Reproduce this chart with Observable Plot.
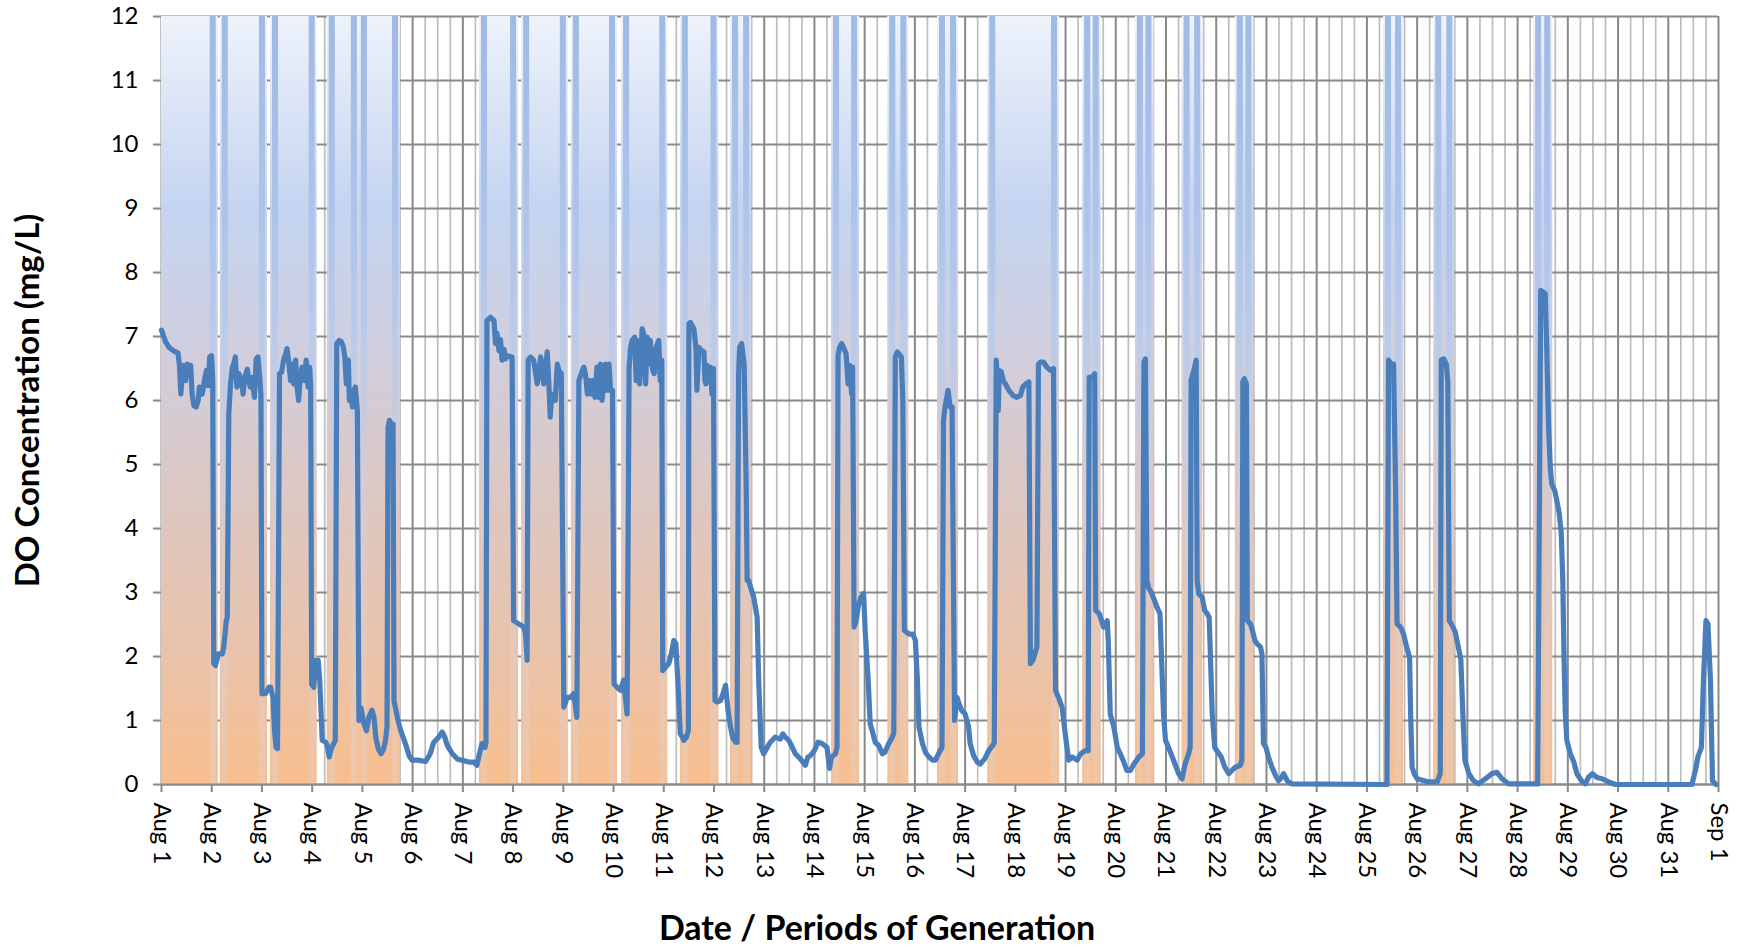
<!DOCTYPE html>
<html><head><meta charset="utf-8">
<script src="https://cdn.jsdelivr.net/npm/d3@7"></script>
<script src="https://cdn.jsdelivr.net/npm/@observablehq/plot@0.6"></script>
<style>html,body{margin:0;padding:0;background:#fff;}</style>
</head><body><div id="chart"></div>
<script>
const dayLabels = ["Aug 1","Aug 2","Aug 3","Aug 4","Aug 5","Aug 6","Aug 7","Aug 8","Aug 9","Aug 10","Aug 11","Aug 12","Aug 13","Aug 14","Aug 15","Aug 16","Aug 17","Aug 18","Aug 19","Aug 20","Aug 21","Aug 22","Aug 23","Aug 24","Aug 25","Aug 26","Aug 27","Aug 28","Aug 29","Aug 30","Aug 31","Sep 1"];
const yTicks = [0,1,2,3,4,5,6,7,8,9,10,11,12];
const yLabel = "DO Concentration (mg/L)";
const xLabel = "Date / Periods of Generation";

// Periods of generation (days since Aug 1 00:00)
const genStart = [0, 1.17, 2.17, 3.30, 3.94, 6.33, 7.17, 8.16, 9.16, 10.33, 11.33, 13.34, 14.46, 15.45, 16.45, 18.34, 19.39, 20.32, 21.38, 24.33, 25.33, 27.32];
const genEnd   = [1.13, 2.11, 3.10, 3.94, 4.76, 7.11, 8.10, 9.08, 10.08, 11.10, 11.75, 13.90, 14.88, 15.87, 17.88, 18.71, 19.76, 20.73, 21.75, 24.73, 25.75, 27.70];

// DO concentration (days since Aug 1, mg/L)
const doDay = [0.00,0.08,0.15,0.25,0.33,0.36,0.385,0.425,0.48,0.51,0.545,0.58,0.61,0.645,0.69,0.73,0.755,0.81,0.865,0.895,0.93,0.96,0.995,1.02,1.04,1.075,1.13,1.21,1.24,1.29,1.31,1.34,1.375,1.41,1.44,1.47,1.50,1.54,1.59,1.625,1.66,1.71,1.74,1.77,1.805,1.85,1.885,1.92,1.95,1.98,2.00,2.07,2.14,2.17,2.22,2.25,2.28,2.31,2.35,2.39,2.43,2.47,2.50,2.53,2.57,2.60,2.63,2.67,2.70,2.73,2.77,2.80,2.85,2.88,2.92,2.95,2.97,2.99,3.03,3.07,3.12,3.15,3.20,3.27,3.30,3.34,3.38,3.43,3.46,3.49,3.54,3.58,3.62,3.65,3.68,3.72,3.74,3.77,3.80,3.83,3.86,3.90,3.93,3.97,4.03,4.08,4.13,4.19,4.23,4.27,4.32,4.37,4.42,4.46,4.49,4.51,4.54,4.58,4.61,4.63,4.67,4.71,4.76,4.82,4.88,4.93,4.99,5.10,5.26,5.35,5.42,5.52,5.59,5.64,5.69,5.79,5.89,5.98,6.12,6.22,6.28,6.33,6.38,6.44,6.46,6.48,6.55,6.62,6.65,6.68,6.72,6.75,6.78,6.82,6.85,6.88,6.98,7.01,7.11,7.21,7.25,7.28,7.30,7.35,7.41,7.48,7.55,7.61,7.68,7.71,7.74,7.77,7.84,7.88,7.91,7.96,8.01,8.08,8.14,8.21,8.27,8.31,8.35,8.38,8.41,8.44,8.48,8.52,8.56,8.59,8.63,8.67,8.71,8.74,8.77,8.80,8.84,8.87,8.91,8.94,8.98,9.01,9.07,9.14,9.20,9.27,9.31,9.34,9.37,9.42,9.45,9.47,9.52,9.57,9.60,9.64,9.67,9.70,9.73,9.78,9.81,9.85,9.90,9.93,9.96,9.98,10.03,10.10,10.15,10.20,10.24,10.28,10.33,10.37,10.40,10.45,10.49,10.50,10.53,10.60,10.64,10.66,10.70,10.75,10.80,10.82,10.84,10.86,10.90,10.93,10.96,10.99,11.02,11.06,11.13,11.18,11.23,11.28,11.33,11.37,11.43,11.46,11.49,11.51,11.55,11.60,11.64,11.66,11.69,11.73,11.79,11.86,11.89,11.94,11.99,12.06,12.12,12.22,12.32,12.37,12.42,12.49,12.56,12.62,12.72,12.82,12.87,12.92,13.00,13.07,13.15,13.25,13.30,13.34,13.42,13.45,13.47,13.50,13.54,13.58,13.63,13.67,13.70,13.74,13.76,13.79,13.83,13.88,13.93,13.98,14.01,14.07,14.11,14.15,14.21,14.28,14.35,14.40,14.48,14.55,14.58,14.61,14.65,14.69,14.73,14.76,14.79,14.88,14.96,15.01,15.05,15.08,15.15,15.21,15.28,15.35,15.41,15.47,15.54,15.57,15.60,15.66,15.70,15.74,15.79,15.84,15.88,15.93,16.00,16.07,16.10,16.17,16.24,16.30,16.39,16.47,16.55,16.58,16.62,16.66,16.68,16.72,16.76,16.80,16.87,16.95,17.03,17.10,17.15,17.21,17.27,17.30,17.35,17.43,17.46,17.50,17.56,17.63,17.70,17.76,17.80,17.86,17.93,18.01,18.06,18.13,18.23,18.30,18.39,18.45,18.47,18.53,18.58,18.60,18.67,18.76,18.83,18.85,18.89,18.96,19.03,19.09,19.16,19.22,19.29,19.36,19.46,19.53,19.56,19.59,19.62,19.65,19.72,19.82,19.88,19.95,19.99,20.05,20.15,20.25,20.32,20.38,20.45,20.48,20.50,20.53,20.57,20.60,20.62,20.65,20.72,20.77,20.82,20.86,20.92,20.97,21.01,21.10,21.17,21.25,21.31,21.38,21.48,21.51,21.53,21.56,21.60,21.62,21.68,21.72,21.77,21.81,21.88,21.91,21.94,21.99,22.04,22.11,22.18,22.24,22.30,22.34,22.38,22.43,22.51,24.40,24.43,24.48,24.53,24.57,24.60,24.67,24.73,24.79,24.85,24.87,24.90,24.94,25.00,25.23,25.40,25.46,25.48,25.53,25.58,25.61,25.64,25.70,25.76,25.82,25.87,25.91,25.95,26.03,26.12,26.22,26.36,26.49,26.59,26.69,26.82,27.40,27.46,27.55,27.58,27.62,27.65,27.68,27.74,27.78,27.83,27.87,27.90,27.92,27.95,27.98,28.05,28.12,28.18,28.27,28.35,28.41,28.49,28.58,28.68,28.81,28.95,30.47,30.54,30.59,30.66,30.70,30.75,30.79,30.84,30.88,30.95];
const doValue = [7.10,6.92,6.83,6.77,6.74,6.52,6.10,6.55,6.31,6.57,6.47,6.55,6.10,5.92,5.90,6.00,6.21,6.10,6.36,6.47,6.23,6.68,6.70,6.31,1.89,1.86,2.04,2.04,2.15,2.56,2.61,5.79,6.26,6.52,6.58,6.68,6.21,6.42,6.31,6.10,6.37,6.49,6.31,6.21,6.36,6.05,6.65,6.68,6.42,6.08,1.42,1.42,1.52,1.52,1.36,0.84,0.58,0.56,6.42,6.44,6.63,6.73,6.81,6.63,6.31,6.57,6.26,6.63,6.21,6.00,6.42,6.52,6.31,6.63,6.21,6.52,6.21,1.57,1.52,1.94,1.94,1.63,0.69,0.66,0.61,0.43,0.56,0.64,0.69,6.89,6.94,6.92,6.84,6.68,6.26,6.63,6.00,6.16,5.90,6.15,6.21,5.84,1.00,1.20,0.95,0.84,1.05,1.16,1.05,0.72,0.55,0.48,0.55,0.69,0.90,5.58,5.69,5.63,5.63,1.30,1.15,1.00,0.85,0.72,0.58,0.45,0.38,0.38,0.36,0.48,0.66,0.74,0.82,0.74,0.61,0.48,0.40,0.38,0.35,0.35,0.30,0.48,0.64,0.58,0.66,7.25,7.30,7.25,6.89,7.05,6.78,6.95,6.63,6.80,6.65,6.70,6.68,2.56,2.51,2.46,2.35,1.94,6.63,6.68,6.63,6.26,6.68,6.26,6.76,6.31,5.74,6.10,6.00,6.57,6.47,6.42,1.21,1.36,1.36,1.42,1.05,6.31,6.40,6.47,6.52,6.42,6.10,6.31,6.10,6.31,6.05,6.52,6.05,6.57,6.00,6.21,6.57,6.16,6.57,6.16,6.16,1.57,1.52,1.47,1.63,1.10,6.50,6.83,6.94,6.99,6.31,6.94,6.26,7.12,7.04,6.26,6.99,6.57,6.94,6.47,6.42,6.83,6.94,6.31,6.63,1.78,1.83,1.89,2.04,2.25,2.20,1.63,0.79,0.74,0.69,0.74,0.84,7.20,7.22,7.12,6.83,6.16,6.83,6.78,6.76,6.31,6.26,6.55,6.42,6.52,6.10,6.50,1.31,1.29,1.31,1.42,1.55,1.16,0.90,0.74,0.66,0.66,6.40,6.83,6.89,6.57,4.75,3.19,3.19,3.08,2.93,2.61,1.63,0.58,0.48,0.58,0.66,0.74,0.71,0.79,0.74,0.69,0.58,0.48,0.40,0.30,0.43,0.45,0.53,0.66,0.64,0.58,0.25,0.43,0.48,0.58,6.70,6.83,6.89,6.83,6.73,6.26,6.55,6.10,6.52,2.46,2.56,2.82,2.93,2.98,2.41,1.63,0.95,0.84,0.66,0.61,0.48,0.50,0.64,0.74,0.80,6.68,6.76,6.72,6.68,6.00,2.41,2.35,2.35,2.25,1.63,0.90,0.64,0.50,0.43,0.38,0.38,0.48,0.58,5.69,5.90,6.16,5.90,5.90,1.00,1.36,1.26,1.16,1.10,0.90,0.64,0.45,0.35,0.32,0.40,0.53,0.61,0.65,6.63,5.84,6.47,6.45,6.31,6.26,6.16,6.08,6.05,6.08,6.21,6.26,6.29,1.89,1.94,2.15,6.57,6.60,6.60,6.52,6.47,6.50,1.47,1.36,1.21,0.69,0.38,0.43,0.38,0.48,0.53,0.53,6.36,6.36,6.42,2.72,2.67,2.46,2.56,2.25,1.10,0.90,0.58,0.48,0.35,0.22,0.22,0.32,0.43,0.48,6.60,6.65,3.19,3.08,2.98,2.77,2.67,1.10,0.69,0.58,0.38,0.17,0.09,0.32,0.48,0.58,6.31,6.40,6.52,6.63,3.19,2.98,2.93,2.72,2.67,2.61,1.10,0.58,0.53,0.43,0.27,0.17,0.22,0.27,0.30,0.38,6.30,6.34,6.26,2.56,2.51,2.41,2.25,2.20,2.15,2.04,0.64,0.58,0.43,0.27,0.14,0.06,0.11,0.17,0.11,0.04,0.01,0.00,6.63,6.57,6.57,4.70,2.51,2.46,2.35,2.15,1.99,1.10,0.27,0.17,0.09,0.04,0.04,0.17,6.63,6.65,6.57,6.31,2.56,2.48,2.38,2.15,1.95,1.10,0.38,0.17,0.06,0.01,0.09,0.17,0.19,0.09,0.01,0.01,7.72,7.67,6.83,5.53,4.96,4.70,4.59,4.44,4.23,3.92,3.19,2.15,1.10,0.69,0.48,0.35,0.17,0.06,0.01,0.11,0.17,0.11,0.09,0.04,0.00,0.00,0.22,0.43,0.58,1.63,2.56,2.51,1.63,0.06,0.00];

const bands = genStart.map((s, i) => ({s, e: genEnd[i]}));
const strips = [];
bands.forEach(b => {
  if (b.s > 0) strips.push({a: b.s + 0.04, b: b.s + 0.16});
  strips.push({a: b.e - 0.16, b: b.e - 0.04});
});
const series = doDay.map((d, i) => ({d, v: doValue[i]}));
const majorX = d3.range(0, dayLabels.length);
const minorX = d3.range(0, (dayLabels.length - 1) * 4).map(i => i / 4).filter(t => t % 1 !== 0);

const gridDark = "#898989", gridLight = "#bdbdbd";

const chart = Plot.plot({
  width: 1739,
  height: 949,
  marginLeft: 161,
  marginRight: 21,
  marginTop: 16,
  marginBottom: 165,
  style: {fontFamily: "Lato, 'Liberation Sans', sans-serif", fontSize: "24px", background: "#fff", color: "#000"},
  x: {domain: [0, dayLabels.length - 1]},
  y: {domain: [0, 12]},
  marks: [
    Plot.ruleX(minorX, {stroke: gridLight, strokeWidth: 1.7}),
    Plot.ruleX(majorX, {stroke: gridDark, strokeWidth: 2}),
    Plot.ruleY(yTicks, {stroke: gridDark, strokeWidth: 2}),
    Plot.rect(bands, {x1: "s", x2: "e", y1: 0, y2: 12, fill: "url(#genFill)"}),
    Plot.rect(strips, {x1: "a", x2: "b", y1: 0, y2: 12, fill: "url(#stripFill)"}),
    Plot.ruleY([0], {stroke: gridDark, strokeWidth: 2}),
    Plot.axisY({ticks: yTicks, tickSize: 8, tickPadding: 15, stroke: gridDark, strokeWidth: 2, fill: "#000",
      label: yLabel, labelAnchor: "center", labelArrow: "none", labelOffset: 146, fontSize: 24}),
    Plot.axisX({ticks: majorX, tickSize: 8, tickPadding: 10, tickRotate: 90, stroke: gridDark, strokeWidth: 2, fill: "#000",
      tickFormat: i => dayLabels[i], label: null, fontSize: 24}),
    Plot.text([xLabel], {frameAnchor: "bottom", dy: 155, dx: -63, fontSize: 34, fontWeight: "bold", fill: "#000"}),
    Plot.line(series, {x: "d", y: "v", stroke: "#4a7ebb", strokeWidth: 5.2, strokeLinejoin: "round", strokeLinecap: "round"})
  ]
});

d3.select(chart).insert("defs", ":first-child").html(`
  <linearGradient id="genFill" x1="0" y1="0" x2="0" y2="1">
    <stop offset="0" stop-color="#eef3fb"/>
    <stop offset="0.25" stop-color="#c4d4f0"/>
    <stop offset="0.42" stop-color="#cfcfe0"/>
    <stop offset="0.6" stop-color="#dbc8c6"/>
    <stop offset="0.83" stop-color="#e9c3aa"/>
    <stop offset="1" stop-color="#f8be8e"/>
  </linearGradient>
  <linearGradient id="stripFill" x1="0" y1="0" x2="0" y2="1">
    <stop offset="0" stop-color="#a0bae6"/>
    <stop offset="0.25" stop-color="#adc3ea"/>
    <stop offset="0.42" stop-color="#bacbea"/>
    <stop offset="0.62" stop-color="#d6cbd2"/>
    <stop offset="0.83" stop-color="#e6c8b8"/>
    <stop offset="1" stop-color="#efc6a8"/>
  </linearGradient>`);
d3.select(chart).selectAll("g[aria-label='y-axis label']").attr("font-weight", "bold").attr("font-size", 33);

document.getElementById("chart").appendChild(chart);
</script>
</body></html>
